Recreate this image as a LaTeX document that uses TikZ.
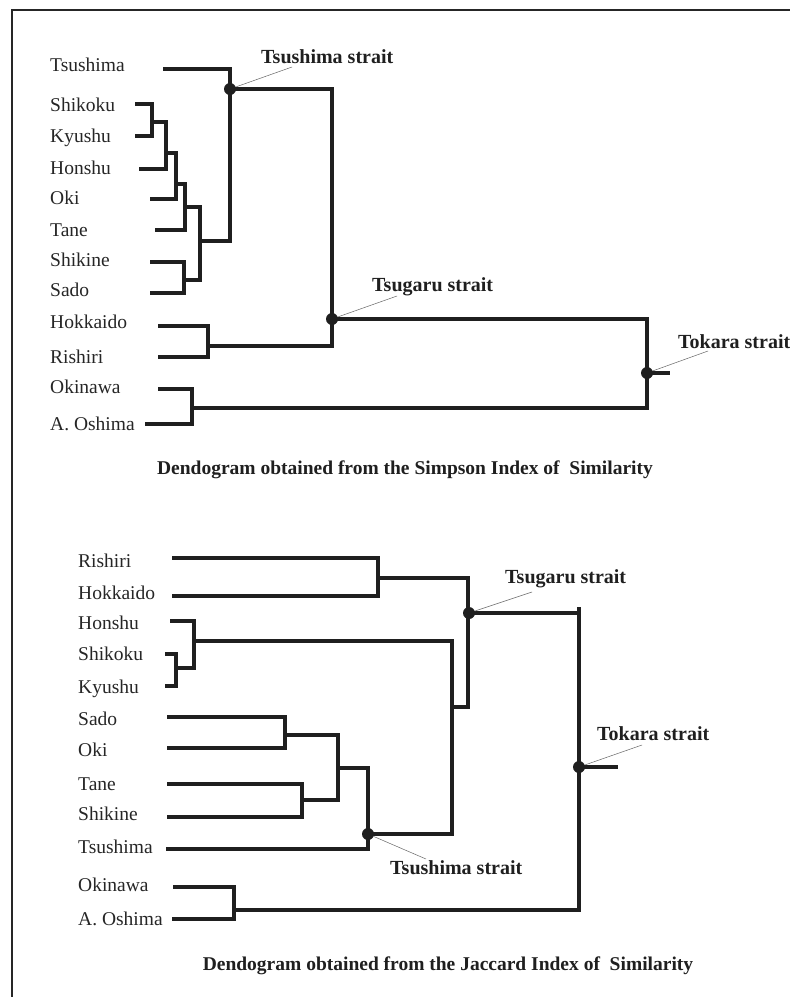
\documentclass[tikz,border=0pt]{standalone}
\usepackage{fontspec}
\setmainfont{Liberation Serif}
\begin{document}
\begin{tikzpicture}[x=1pt,y=-1pt,
  dline/.style={line width=3.2pt, line join=miter, color=black!88},
  lab/.style={anchor=base west, inner sep=0pt, font=\fontsize{19.5}{22}\selectfont, text=black!85},
  strait/.style={anchor=base west, inner sep=0pt, font=\fontsize{20}{22}\selectfont\bfseries, text=black!88},
  captxt/.style={anchor=base, inner sep=0pt, font=\fontsize{19.5}{22}\selectfont\bfseries, text=black!88},
  leader/.style={line width=0.5pt, color=black!60},
  dot/.style={circle, fill=black!88, inner sep=0pt, minimum size=12pt}]
\useasboundingbox (0,0) rectangle (790,997);
\fill[white] (0,0) rectangle (790,997);
% frame
\draw[line width=1.5pt, black!85] (12,997) -- (12,10) -- (790,10);

% ===== Simpson dendrogram =====
\node[lab] (t1) at (50,71) {Tsushima};
\node[lab] (t2) at (50,111) {Shikoku};
\node[lab] (t3) at (50,142) {Kyushu};
\node[lab] (t4) at (50,174) {Honshu};
\node[lab] (t5) at (50,204) {Oki};
\node[lab] (t6) at (50,236) {Tane};
\node[lab] (t7) at (50,266) {Shikine};
\node[lab] (t8) at (50,296) {Sado};
\node[lab] (t9) at (50,328) {Hokkaido};
\node[lab] (t10) at (50,363) {Rishiri};
\node[lab] (t11) at (50,393) {Okinawa};
\node[lab] (t12) at (50,430) {A. Oshima};

\draw[dline] (135,104) -- (152,104) -- (152,136) -- (135,136);
\draw[dline] (152,122) -- (166,122) -- (166,169) -- (139,169);
\draw[dline] (166,153) -- (176,153) -- (176,199) -- (150,199);
\draw[dline] (176,184) -- (185,184) -- (185,230) -- (155,230);
\draw[dline] (150,262) -- (184,262) -- (184,293) -- (150,293);
\draw[dline] (184,280) -- (200,280) -- (200,207) -- (185,207);
\draw[dline] (200,241) -- (230,241) -- (230,69) -- (163,69);
\draw[dline] (230,89) -- (332,89) -- (332,346) -- (208,346);
\draw[dline] (158,326) -- (208,326) -- (208,357) -- (158,357);
\draw[dline] (332,319) -- (647,319) -- (647,408) -- (192,408);
\draw[dline] (158,389) -- (192,389) -- (192,424) -- (145,424);
\draw[dline] (647,373) -- (670,373);

\node[dot] (ta) at (230,89) {};
\node[dot] (tb) at (332,319) {};
\node[dot] (tc) at (647,373) {};

\node[strait] (sa) at (261,63) {Tsushima strait};
\node[strait] (sb) at (372,291) {Tsugaru strait};
\node[strait] (sc) at (678,348) {Tokara strait};
\coordinate (la) at (292,67);
\coordinate (lb) at (397,296);
\coordinate (lc) at (708,351);
\draw[leader] (ta) -- (la);
\draw[leader] (tb) -- (lb);
\draw[leader] (tc) -- (lc);

\node[captxt] (c1) at (405,474) {Dendogram obtained from the Simpson Index of\ \ Similarity};

% ===== Jaccard dendrogram =====
\node[lab] (b1) at (78,567) {Rishiri};
\node[lab] (b2) at (78,599) {Hokkaido};
\node[lab] (b3) at (78,629) {Honshu};
\node[lab] (b4) at (78,660) {Shikoku};
\node[lab] (b5) at (78,693) {Kyushu};
\node[lab] (b6) at (78,725) {Sado};
\node[lab] (b7) at (78,756) {Oki};
\node[lab] (b8) at (78,790) {Tane};
\node[lab] (b9) at (78,820) {Shikine};
\node[lab] (b10) at (78,853) {Tsushima};
\node[lab] (b11) at (78,891) {Okinawa};
\node[lab] (b12) at (78,925) {A. Oshima};

\draw[dline] (172,558) -- (378,558) -- (378,596) -- (172,596);
\draw[dline] (378,578) -- (468,578) -- (468,707) -- (452,707);
\draw[dline] (165,654) -- (176,654) -- (176,686) -- (165,686);
\draw[dline] (176,668) -- (194,668) -- (194,621) -- (170,621);
\draw[dline] (194,641) -- (452,641) -- (452,834) -- (368,834);
\draw[dline] (167,717) -- (285,717) -- (285,748) -- (167,748);
\draw[dline] (167,784) -- (302,784) -- (302,817) -- (167,817);
\draw[dline] (285,735) -- (338,735) -- (338,800) -- (302,800);
\draw[dline] (338,768) -- (368,768) -- (368,849) -- (166,849);
\draw[dline] (468,613) -- (579,613);
\draw[dline] (579,607) -- (579,910) -- (234,910);
\draw[dline] (173,887) -- (234,887) -- (234,919) -- (172,919);
\draw[dline] (579,767) -- (618,767);

\node[dot] (ba) at (368,834) {};
\node[dot] (bb) at (469,613) {};
\node[dot] (bc) at (579,767) {};

\node[strait] (sd) at (390,874) {Tsushima strait};
\node[strait] (se) at (505,583) {Tsugaru strait};
\node[strait] (sf) at (597,740) {Tokara strait};
\coordinate (ld) at (426,859);
\coordinate (le) at (532,592);
\coordinate (lf) at (642,745);
\draw[leader] (ba) -- (ld);
\draw[leader] (bb) -- (le);
\draw[leader] (bc) -- (lf);

\node[captxt] (c2) at (448,970) {Dendogram obtained from the Jaccard Index of\ \ Similarity};
\end{tikzpicture}
\end{document}
